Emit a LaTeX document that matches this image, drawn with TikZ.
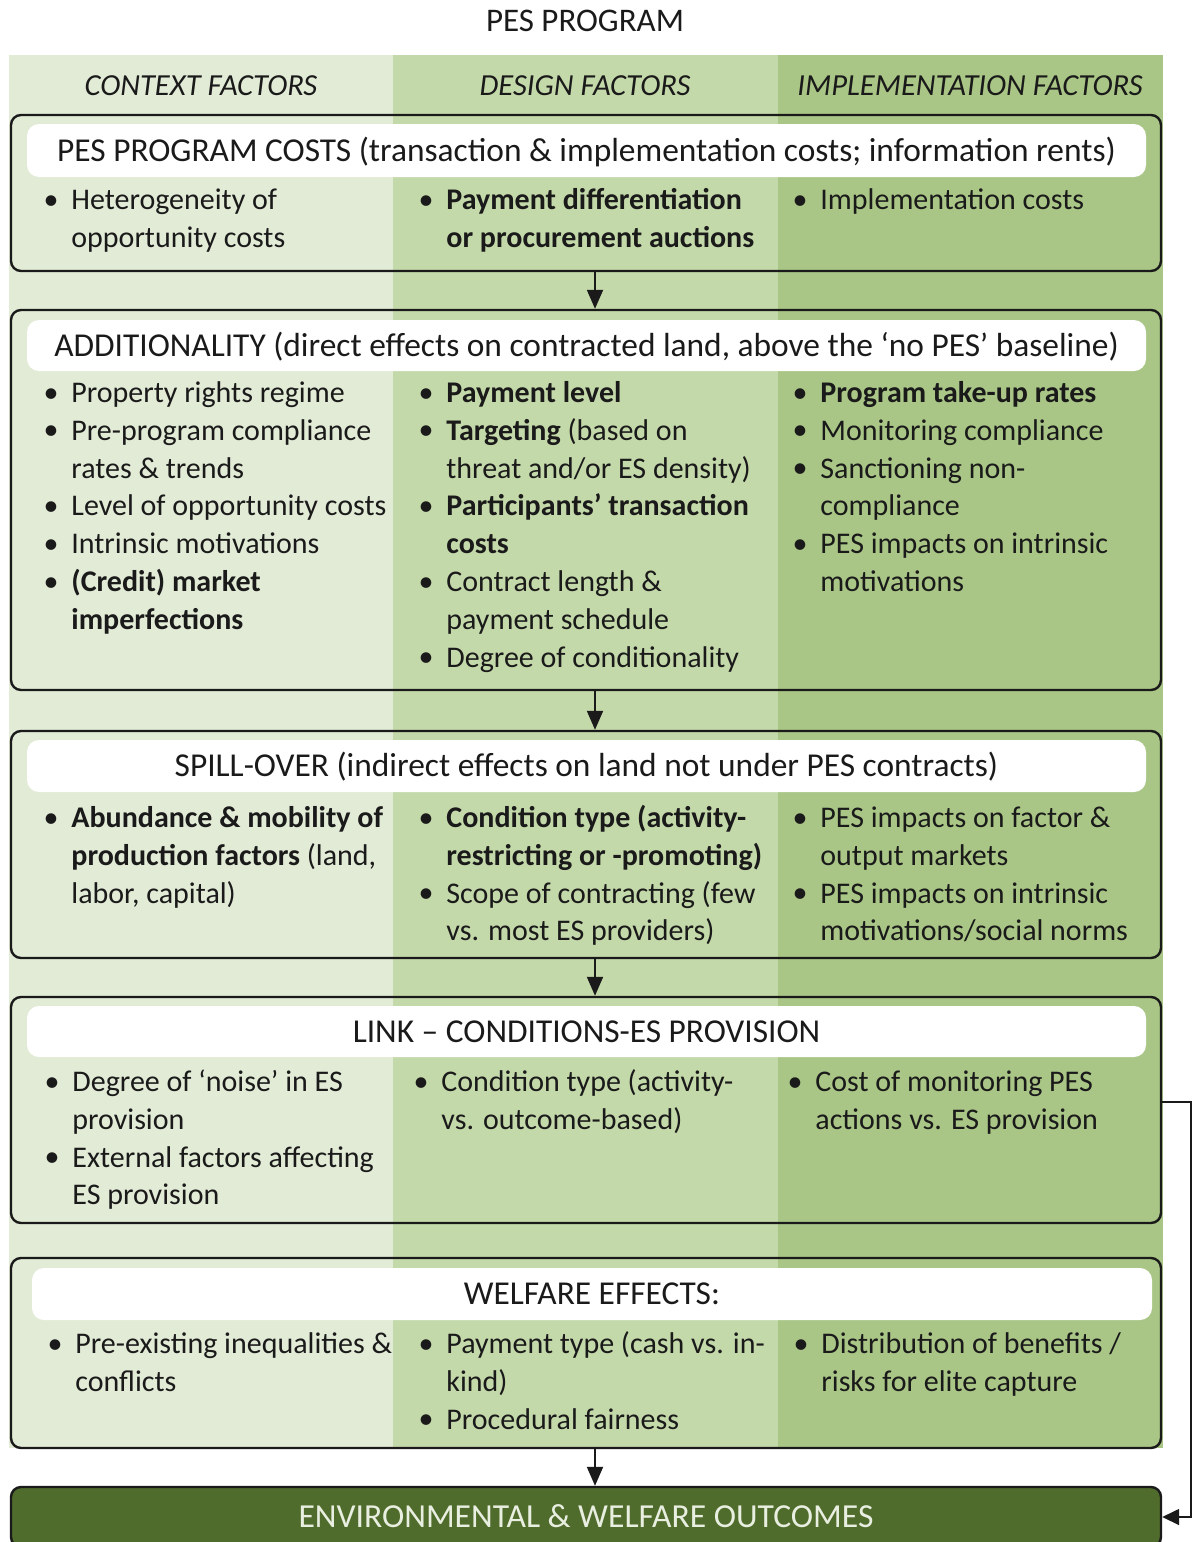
\documentclass[tikz,border=0pt]{standalone}
\usepackage{fontspec}
\setmainfont{Carlito}
\usetikzlibrary{arrows.meta}

\definecolor{colA}{HTML}{E2EBD6}
\definecolor{colB}{HTML}{C4D9AA}
\definecolor{colC}{HTML}{A9C686}
\definecolor{envgreen}{HTML}{506C2C}
\definecolor{ink}{HTML}{1A1A1A}
\definecolor{envtext}{HTML}{E9EFE0}

\newcommand\mainsize{\fontsize{15pt}{18.9pt}\selectfont}
\newcommand\headsize{\fontsize{16.7pt}{20pt}\selectfont}
\newcommand\colsize{\fontsize{15.3pt}{18pt}\selectfont}
\newcounter{itemno}
% bullet item: x of the text, baseline of its first line, text (lines split by \\)
\newcommand\bitem[3]{%
  \stepcounter{itemno}%
  \node[dot] (dot\theitemno) at (#1-20,#2) {\textbullet};
  \node[itemtext] (txt\theitemno) at (#1,#2) {\strut #3};
}

\tikzset{
  dot/.style={anchor=base, inner sep=0pt, font=\mainsize, text=ink},
  itemtext/.style={anchor=north west, inner sep=0pt, yshift=13.23pt, align=left, font=\mainsize, text=ink},
  box/.style={draw=ink, line width=1.2pt, rounded corners=5pt, inner sep=0pt},
  bar/.style={fill=white, rounded corners=6pt, inner sep=0pt, text height=10.5pt, text depth=0pt, font=\headsize, text=ink},
  label/.style={inner sep=0pt, text height=10pt, text depth=0pt, font=\mainsize, text=ink},
  arr/.style={draw=ink, line width=1pt, -{Triangle[length=9.5pt,width=8pt]}},
  fb/.style={draw=ink, line width=0.8pt, -{Triangle[length=8.5pt,width=8pt]}}
}

\begin{document}
\begin{tikzpicture}[x=0.5pt,y=-0.5pt]
\clip (0,0) rectangle (1192,1542);
\fill[white] (0,0) rectangle (1192,1542);

% column bands
\fill[colA] (9,55) rectangle (393,1448);
\fill[colB] (393,55) rectangle (778,1448);
\fill[colC] (778,55) rectangle (1163,1448);

% titles
\node[label, font=\fontsize{16.5pt}{20pt}\selectfont] (title) at (585,22) {PES PROGRAM};
\node[label, font=\colsize\itshape] (hctx) at (201,85) {CONTEXT FACTORS};
\node[label, font=\colsize\itshape] (hdes) at (585,85) {DESIGN FACTORS};
\node[label, font=\colsize\itshape] (himp) at (970,85) {IMPLEMENTATION FACTORS};

% stage boxes
\node[box, minimum width=575pt, minimum height=78pt] (costs) at (586,193) {};
\node[box, minimum width=575pt, minimum height=190pt] (addit) at (586,500) {};
\node[box, minimum width=575pt, minimum height=113.5pt] (spill) at (586,844.5) {};
\node[box, minimum width=575pt, minimum height=113pt] (link) at (586,1110) {};
\node[box, minimum width=575pt, minimum height=95pt] (welf) at (586,1353) {};
\node[box, fill=envgreen, minimum width=575pt, minimum height=30pt, text height=10.5pt, text depth=0pt,
      font=\fontsize{16.8pt}{20pt}\selectfont, text=envtext] (env) at (586,1517) {ENVIRONMENTAL \& WELFARE OUTCOMES};

% header bars
\node[bar, minimum width=559.5pt, minimum height=26.5pt] (costshead) at (586.5,150.5)
  {PES PROGRAM COSTS (transaction \& implementation costs; information rents)};
\node[bar, minimum width=559.5pt, minimum height=25.5pt] (additdhead) at (586.5,345.5)
  {ADDITIONALITY (direct effects on contracted land, above the ‘no PES’ baseline)};
\node[bar, minimum width=559.5pt, minimum height=26pt] (spillhead) at (586.5,766)
  {SPILL-OVER (indirect effects on land not under PES contracts)};
\node[bar, minimum width=559.5pt, minimum height=25.5pt] (linkhead) at (586.5,1031.5)
  {LINK – CONDITIONS-ES PROVISION};
\node[bar, minimum width=560pt, minimum height=26pt] (welfhead) at (592,1294)
  {WELFARE EFFECTS:};

% PES program costs
\bitem{71}{209}{Heterogeneity of\\opportunity costs}
\bitem{446}{209}{\textbf{Payment differentiation}\\\textbf{or procurement auctions}}
\bitem{820}{209}{Implementation costs}

% additionality
\bitem{71}{402}{Property rights regime}
\bitem{71}{439.8}{Pre-program compliance\\rates \& trends}
\bitem{71}{515.4}{Level of opportunity costs}
\bitem{71}{553.2}{Intrinsic motivations}
\bitem{71}{591}{\textbf{(Credit) market}\\\textbf{imperfections}}
\bitem{446}{402}{\textbf{Payment level}}
\bitem{446}{439.8}{\textbf{Targeting} (based on\\threat and/or ES density)}
\bitem{446}{515.4}{\textbf{Participants’ transaction}\\\textbf{costs}}
\bitem{446}{591}{Contract length \&\\payment schedule}
\bitem{446}{666.6}{Degree of conditionality}
\bitem{820}{402}{\textbf{Program take-up rates}}
\bitem{820}{439.8}{Monitoring compliance}
\bitem{820}{477.6}{Sanctioning non-\\compliance}
\bitem{820}{553.2}{PES impacts on intrinsic\\motivations}

% spill-over
\bitem{71}{827}{\textbf{Abundance \& mobility of}\\\textbf{production factors} (land,\\labor, capital)}
\bitem{446}{827}{\textbf{Condition type (activity-}\\\textbf{restricting or -promoting)}}
\bitem{446}{902.6}{Scope of contracting (few\\vs. most ES providers)}
\bitem{820}{827}{PES impacts on factor \&\\output markets}
\bitem{820}{902.6}{PES impacts on intrinsic\\motivations/social norms}

% link conditions - ES provision
\bitem{72}{1091}{Degree of ‘noise’ in ES\\provision}
\bitem{72}{1166.6}{External factors affecting\\ES provision}
\bitem{441}{1091}{Condition type (activity-\\vs. outcome-based)}
\bitem{815}{1091}{Cost of monitoring PES\\actions vs. ES provision}

% welfare effects
\bitem{75}{1353}{Pre-existing inequalities \&\\conflicts}
\bitem{446}{1353}{Payment type (cash vs. in-\\kind)}
\bitem{446}{1428.6}{Procedural fairness}
\bitem{821}{1353}{Distribution of benefits /\\risks for elite capture}

% flow arrows
\draw[arr] ([xshift=4.5pt]costs.south) -- ([xshift=4.5pt]addit.north);
\draw[arr] ([xshift=4.5pt]addit.south) -- ([xshift=4.5pt]spill.north);
\draw[arr] ([xshift=4.5pt]spill.south) -- ([xshift=4.5pt]link.north);
\draw[arr] ([xshift=4.5pt]welf.south) -- ([xshift=4.5pt]env.north);
\draw[fb] ([yshift=4pt]link.east) -- ++(29,0) |- (env.east);
\end{tikzpicture}
\end{document}
